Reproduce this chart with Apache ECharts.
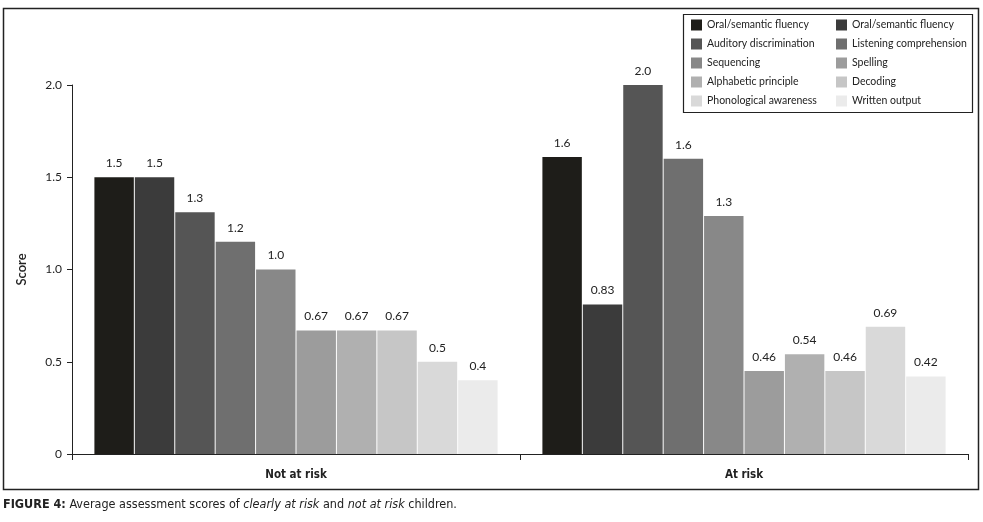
<!DOCTYPE html>
<html>
<head>
<meta charset="utf-8">
<script src="https://cdn.jsdelivr.net/npm/echarts@6/dist/echarts.min.js"></script>
<style>
html,body{margin:0;padding:0;background:#fff;}
#chart{width:983px;height:522px;}
</style>
</head>
<body>
<div id="chart"></div>
<script>
// ---- data ----
var categories = ['Not at risk', 'At risk'];
var seriesNames = [
  'Oral/semantic fluency', 'Oral/semantic fluency\u200b', 'Auditory discrimination',
  'Listening comprehension', 'Sequencing', 'Spelling', 'Alphabetic principle',
  'Decoding', 'Phonological awareness', 'Written output'
];
var notAtRiskValues = [1.5, 1.5, 1.31, 1.15, 1.0, 0.67, 0.67, 0.67, 0.5, 0.4];
var atRiskValues = [1.61, 0.81, 2.0, 1.6, 1.29, 0.45, 0.54, 0.45, 0.69, 0.42];
var notAtRiskLabels = ['1.5', '1.5', '1.3', '1.2', '1.0', '0.67', '0.67', '0.67', '0.5', '0.4'];
var atRiskLabels = ['1.6', '0.83', '2.0', '1.6', '1.3', '0.46', '0.54', '0.46', '0.69', '0.42'];
var yTicks = [0, 0.5, 1.0, 1.5, 2.0];
var captionBold = 'FIGURE 4:';
var captionParts = [' Average assessment scores of ', 'clearly at risk', ' and ', 'not at risk', ' children.'];

// ---- style ----
var colors = ['#1e1d19', '#3b3b3b', '#555555', '#6f6f6f', '#888888',
              '#9c9c9c', '#b0b0b0', '#c6c6c6', '#d9d9d9', '#ebebeb'];
var labelsByCat = [notAtRiskLabels, atRiskLabels];
var valuesByCat = [notAtRiskValues, atRiskValues];
var condensed = "'DejaVu Sans Condensed', Lato, sans-serif";

var series = seriesNames.map(function (name, i) {
  return {
    name: name,
    type: 'bar',
    barGap: '2.5%',
    barCategoryGap: '10%',
    itemStyle: { color: colors[i] },
    data: [valuesByCat[0][i], valuesByCat[1][i]],
    label: {
      show: true,
      position: 'top',
      distance: 8,
      color: '#222',
      fontFamily: 'Lato',
      fontSize: 12,
      formatter: function (p) { return labelsByCat[p.dataIndex][p.seriesIndex]; }
    }
  };
});

function legendCfg(idx, left) {
  return {
    orient: 'vertical',
    left: left,
    top: 19,
    padding: 0,
    itemWidth: 11,
    itemHeight: 11,
    itemGap: 7,
    icon: 'rect',
    selectedMode: false,
    data: idx.map(function (k) { return seriesNames[k]; }),
    formatter: function (n) { return n.replace('\u200b', ''); },
    textStyle: { fontFamily: 'Lato', fontSize: 10.5, color: '#222', lineHeight: 12 }
  };
}

var chart = echarts.init(document.getElementById('chart'));
chart.setOption({
  animation: false,
  backgroundColor: '#fff',
  grid: { left: 72, right: 15, top: 85, bottom: 68 },
  legend: [legendCfg([0, 2, 4, 6, 8], 691), legendCfg([1, 3, 5, 7, 9], 836)],
  title: {
    left: 3,
    top: 498,
    padding: 0,
    text: '{b|' + captionBold + '}{n|' + captionParts[0] + '}{i|' + captionParts[1] + '}{n|' +
          captionParts[2] + '}{i|' + captionParts[3] + '}{n|' + captionParts[4] + '}',
    textStyle: {
      fontWeight: 'normal',
      fontFamily: condensed,
      fontSize: 12.5,
      color: '#222',
      rich: {
        b: { fontFamily: condensed, fontSize: 12.5, fontWeight: 'bold', color: '#222' },
        n: { fontFamily: condensed, fontSize: 12.5, fontWeight: 'normal', color: '#222' },
        i: { fontFamily: condensed, fontSize: 12.5, fontWeight: 'normal', fontStyle: 'italic', color: '#222' }
      }
    }
  },
  xAxis: {
    type: 'category',
    data: categories,
    axisLine: { lineStyle: { color: '#222', width: 1 } },
    axisTick: { show: true, length: 6, lineStyle: { color: '#222' } },
    axisLabel: {
      margin: 15,
      fontFamily: condensed,
      fontWeight: 'bold',
      fontSize: 11.5,
      color: '#222'
    }
  },
  yAxis: {
    type: 'value',
    min: yTicks[0],
    max: yTicks[yTicks.length - 1],
    interval: 0.5,
    name: 'Score',
    nameLocation: 'middle',
    nameGap: 44,
    nameTextStyle: { fontFamily: 'Lato', fontSize: 13, fontWeight: 600, color: '#222' },
    splitLine: { show: false },
    axisLine: { show: true, lineStyle: { color: '#222', width: 1 } },
    axisTick: { show: true, length: 5, lineStyle: { color: '#222' } },
    axisLabel: {
      margin: 10,
      fontFamily: 'Lato',
      fontSize: 12,
      color: '#222',
      formatter: function (v) { return v === 0 ? '0' : v.toFixed(1); }
    }
  },
  graphic: [
    { type: 'rect', shape: { x: 3.5, y: 8.5, width: 975, height: 481 },
      style: { fill: null, stroke: '#222', lineWidth: 1.5 }, silent: true, z: -1 },
    { type: 'rect', shape: { x: 683.5, y: 14.5, width: 289, height: 98 },
      style: { fill: '#fff', stroke: '#222', lineWidth: 1.2 }, silent: true, z: 0 }
  ],
  series: series
});
</script>
</body>
</html>
